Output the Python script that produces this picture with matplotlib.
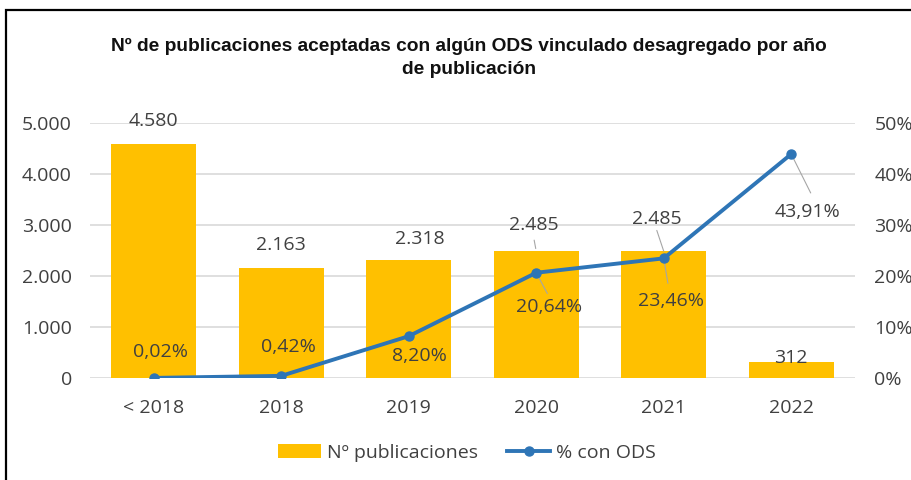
import matplotlib
matplotlib.use('Agg')
import matplotlib.pyplot as plt
from matplotlib.patches import Rectangle
from matplotlib.lines import Line2D
from matplotlib.patches import Patch

# Data
categories = ['< 2018', '2018', '2019', '2020', '2021', '2022']
publicaciones = [4580, 2163, 2318, 2485, 2485, 312]
pct_ods = [0.02, 0.42, 8.20, 20.64, 23.46, 43.91]
pub_labels = ['4.580', '2.163', '2.318', '2.485', '2.485', '312']
pct_labels = ['0,02%', '0,42%', '8,20%', '20,64%', '23,46%', '43,91%']
left_ticks = [0, 1000, 2000, 3000, 4000, 5000]
left_tick_labels = ['0', '1.000', '2.000', '3.000', '4.000', '5.000']
right_ticks = [0, 10, 20, 30, 40, 50]
right_tick_labels = ['0%', '10%', '20%', '30%', '40%', '50%']

title = 'Nº de publicaciones aceptadas con algún ODS vinculado desagregado por año\nde publicación'

bar_color = '#FFC000'
line_color = '#2E75B6'
text_color = '#404040'
grid_color = '#D9D9D9'
leader_color = '#A6A6A6'
fs = 14

plt.rcParams['font.family'] = ['Open Sans', 'DejaVu Sans']

W, H = 912, 480
fig = plt.figure(figsize=(W / 100, H / 100), dpi=100)
fig.patch.set_facecolor('white')

# chart border (cut off on right and bottom like the screenshot)
fig.patches.append(Rectangle((6 / W, -0.1), 2, 1.1 - 10 / H, transform=fig.transFigure,
                             fill=False, edgecolor='black', linewidth=1.6))

ax = fig.add_axes([90 / W, 1 - 378 / H, (855 - 90) / W, (378 - 123) / H])
ax2 = ax.twinx()

x = list(range(len(categories)))
ax.bar(x, publicaciones, width=0.67, color=bar_color, zorder=2)
ax.set_xlim(-0.5, len(categories) - 0.5)
ax.set_ylim(0, 5000)
ax.set_yticks(left_ticks)
ax.set_yticklabels(left_tick_labels)
ax.set_xticks(x)
ax.set_xticklabels(categories)
ax.yaxis.grid(True, color=grid_color, linewidth=1.2, zorder=0)
ax.set_axisbelow(True)
for s in ax.spines.values():
    s.set_visible(False)
for s in ax2.spines.values():
    s.set_visible(False)
ax.tick_params(axis='both', length=0, labelsize=fs, colors=text_color)
ax.tick_params(axis='y', pad=13)
ax.tick_params(axis='x', pad=15)

ax2.plot(x, pct_ods, color=line_color, linewidth=2.8, marker='o', markersize=6.5,
         zorder=4, solid_capstyle='round')
ax2.set_ylim(0, 50)
ax2.set_yticks(right_ticks)
ax2.set_yticklabels(right_tick_labels)
ax2.tick_params(axis='y', length=0, labelsize=fs, colors=text_color, pad=14)

# data labels: offsets in points (dx, dy) from the data point
pub_offsets = [(0, 17), (0, 16), (8, 15), (-2, 19), (-5, 23), (0, 3)]
pct_offsets = [(5, 19), (5, 21), (8, -14), (9, -25), (5, -31), (12, -42)]

for i in x:
    dx, dy = pub_offsets[i]
    ax.annotate(pub_labels[i], (i, publicaciones[i]), xytext=(dx, dy),
                textcoords='offset points', ha='center', va='center',
                fontsize=fs, color=text_color, zorder=6)
    dx, dy = pct_offsets[i]
    ax2.annotate(pct_labels[i], (i, pct_ods[i]), xytext=(dx, dy),
                 textcoords='offset points', ha='center', va='center',
                 fontsize=fs, color=text_color, zorder=6)

# leader lines (gray) between labels and their points
ax.annotate('', (3, publicaciones[3]), xytext=(-1.5, 8), textcoords='offset points',
            arrowprops=dict(arrowstyle='-', color=leader_color, lw=0.8, shrinkA=0, shrinkB=2))
ax.annotate('', (4, publicaciones[4]), xytext=(-5, 15), textcoords='offset points',
            arrowprops=dict(arrowstyle='-', color=leader_color, lw=0.8, shrinkA=0, shrinkB=0))
ax2.annotate('', (3, pct_ods[3]), xytext=(8, -15), textcoords='offset points',
             arrowprops=dict(arrowstyle='-', color=leader_color, lw=0.8, shrinkA=0, shrinkB=2))
ax2.annotate('', (4, pct_ods[4]), xytext=(3, -18), textcoords='offset points',
             arrowprops=dict(arrowstyle='-', color=leader_color, lw=0.8, shrinkA=0, shrinkB=2))
ax2.annotate('', (5, pct_ods[5]), xytext=(14, -28), textcoords='offset points',
             arrowprops=dict(arrowstyle='-', color=leader_color, lw=0.8, shrinkA=0, shrinkB=2))

fig.text(469 / W, 1 - 58 / H, title, ha='center', va='center', fontsize=13.8,
         fontweight='bold', color='#111111', linespacing=1.5,
         family=['Liberation Sans', 'DejaVu Sans'])

handles = [Patch(facecolor=bar_color, edgecolor='none', label='Nº publicaciones'),
           Line2D([0], [0], color=line_color, lw=2.8, marker='o', markersize=6.5,
                  label='% con ODS')]
leg = fig.legend(handles=handles, loc='center', bbox_to_anchor=(467 / W, 1 - 453 / H),
                 ncol=2, frameon=False, fontsize=fs, handlelength=2.2,
                 handletextpad=0.3, columnspacing=1.5)
for t in leg.get_texts():
    t.set_color(text_color)

fig.savefig('out.png', dpi=100)
